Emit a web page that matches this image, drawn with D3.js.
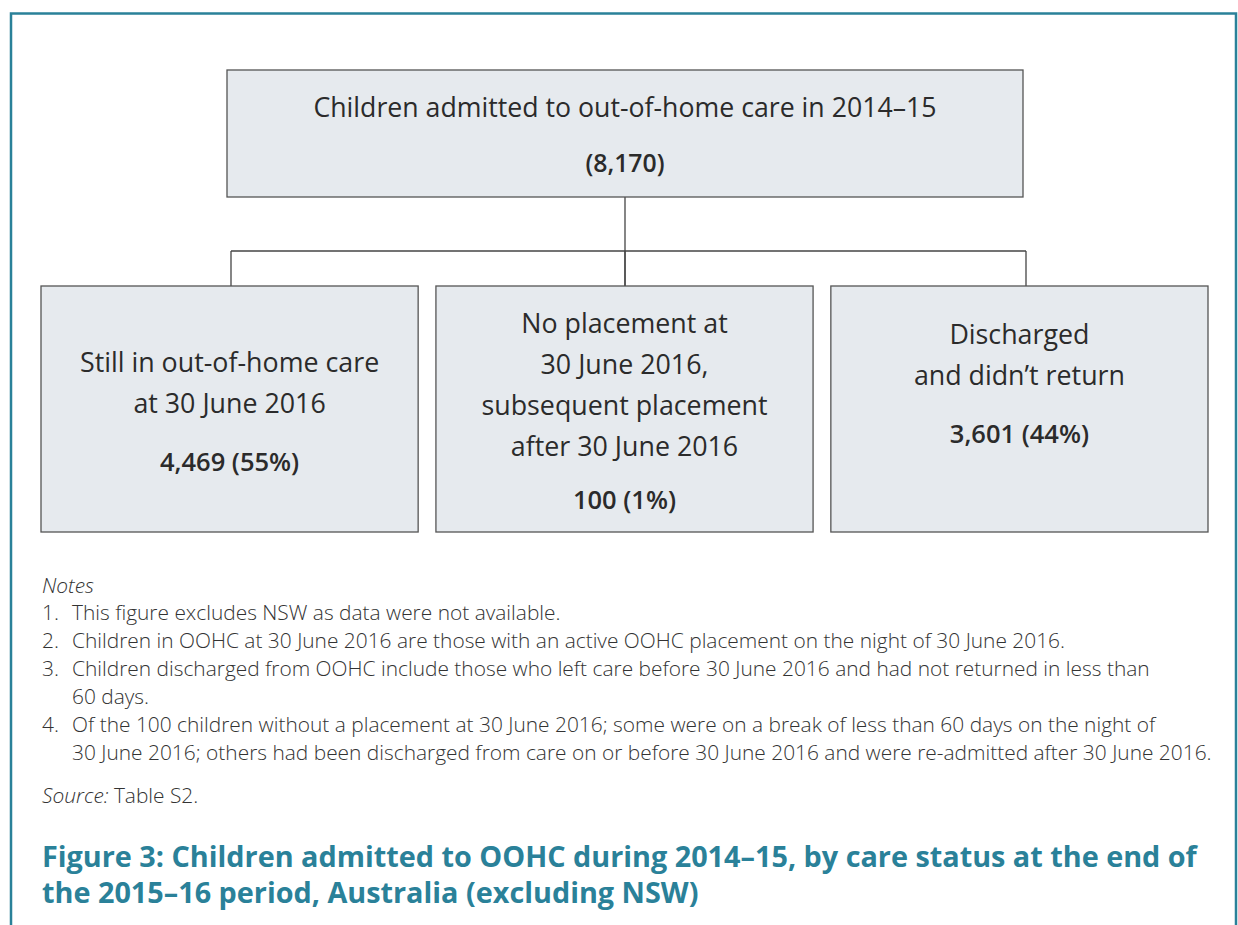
<!DOCTYPE html>
<html><head><meta charset="utf-8">
<script src="https://cdn.jsdelivr.net/npm/d3@7"></script>
<style>body{margin:0;background:#fff}svg{display:block}</style>
</head><body>
<svg id="c" width="1238" height="925"></svg>
<script>
const rootLabel = ["Children admitted to out-of-home care in 2014–15"];
const rootValue = "(8,170)";
const childLabels = [
  ["Still in out-of-home care", "at 30 June 2016"],
  ["No placement at", "30 June 2016,", "subsequent placement", "after 30 June 2016"],
  ["Discharged", "and didn’t return"]
];
const childValues = ["4,469 (55%)", "100 (1%)", "3,601 (44%)"];
const notes = [
  ["1.", "This figure excludes NSW as data were not available."],
  ["2.", "Children in OOHC at 30 June 2016 are those with an active OOHC placement on the night of 30 June 2016."],
  ["3.", "Children discharged from OOHC include those who left care before 30 June 2016 and had not returned in less than"],
  ["", "60 days."],
  ["4.", "Of the 100 children without a placement at 30 June 2016; some were on a break of less than 60 days on the night of"],
  ["", "30 June 2016; others had been discharged from care on or before 30 June 2016 and were re-admitted after 30 June 2016."]
];
const titleLines = [
  "Figure 3: Children admitted to OOHC during 2014–15, by care status at the end of",
  "the 2015–16 period, Australia (excluding NSW)"
];

const svg = d3.select("#c");
const FONT = "'Open Sans', 'Noto Sans', sans-serif";
const TEAL = "#2a8199";
const TXT = "#2b2b2b";
const BOXFILL = "#e6eaee";
const BOXSTROKE = "#555";

// frame
svg.append("path")
  .attr("d", "M11,925 L11,13.5 L1236,13.5 L1236,925")
  .attr("fill", "none").attr("stroke", TEAL).attr("stroke-width", 2.5);

// layout scales
const x = d3.scaleBand().domain(d3.range(childLabels.length)).range([41, 1208]).paddingInner(0.045);
const rootBox = {x0: 227, x1: 1023, y0: 70, y1: 197};
const childY0 = 286, childY1 = 532, busY = 251;
const cx = (rootBox.x0 + rootBox.x1) / 2;

// connectors
const g = svg.append("g").attr("stroke", "#444").attr("stroke-width", 1.3).attr("fill", "none");
const drops = [rootBox.x0 + 4, cx, rootBox.x1 + 3];
g.append("line").attr("x1", cx).attr("x2", cx).attr("y1", rootBox.y1).attr("y2", childY0);
g.append("line").attr("x1", drops[0]).attr("x2", drops[2]).attr("y1", busY).attr("y2", busY);
drops.forEach(c => g.append("line").attr("x1", c).attr("x2", c).attr("y1", busY).attr("y2", childY0));

// root box
svg.append("rect").attr("x", rootBox.x0).attr("y", rootBox.y0)
  .attr("width", rootBox.x1 - rootBox.x0).attr("height", rootBox.y1 - rootBox.y0)
  .attr("fill", BOXFILL).attr("stroke", BOXSTROKE).attr("stroke-width", 1.3);
svg.append("text").attr("x", cx).attr("y", 117).attr("text-anchor", "middle")
  .attr("font-family", FONT).attr("font-size", 26.7).attr("fill", TXT).text(rootLabel[0]);
svg.append("text").attr("x", cx).attr("y", 172).attr("text-anchor", "middle")
  .attr("font-family", FONT).attr("font-size", 24.8).attr("font-weight", 600).attr("fill", TXT).text(rootValue);

// child boxes
const lineH = 41;
const firstBaseline = [372, 333, 344];
const valueGap = [58, 53, 58];
childLabels.forEach((lines, i) => {
  const bx = x(i), bw = x.bandwidth();
  svg.append("rect").attr("x", bx).attr("y", childY0).attr("width", bw).attr("height", childY1 - childY0)
    .attr("fill", BOXFILL).attr("stroke", BOXSTROKE).attr("stroke-width", 1.3);
  const mid = bx + bw / 2;
  lines.forEach((t, j) => {
    svg.append("text").attr("x", mid).attr("y", firstBaseline[i] + j * lineH).attr("text-anchor", "middle")
      .attr("font-family", FONT).attr("font-size", 26.8).attr("fill", TXT).text(t);
  });
  svg.append("text").attr("x", mid).attr("y", firstBaseline[i] + (lines.length - 1) * lineH + valueGap[i])
    .attr("text-anchor", "middle").attr("font-family", FONT).attr("font-size", 25.5).attr("font-weight", 600)
    .attr("fill", TXT).text(childValues[i]);
});

// notes
const NOTECOL = "#333";
const NS = 20.9;
svg.append("text").attr("x", 42).attr("y", 593).attr("font-family", FONT).attr("font-size", NS)
  .attr("font-style", "italic").attr("fill", NOTECOL).attr("font-weight", 300).text("Notes");
notes.forEach((n, i) => {
  const y = 620 + i * 28;
  if (n[0]) svg.append("text").attr("x", 42).attr("y", y).attr("font-family", FONT).attr("font-size", NS)
    .attr("fill", NOTECOL).attr("font-weight", 300).text(n[0]);
  svg.append("text").attr("x", 72).attr("y", y).attr("font-family", FONT).attr("font-size", NS)
    .attr("fill", NOTECOL).attr("font-weight", 300).text(n[1]);
});
const src = svg.append("text").attr("x", 42).attr("y", 803).attr("font-family", FONT).attr("font-size", NS)
  .attr("fill", NOTECOL).attr("font-weight", 300);
src.append("tspan").attr("font-style", "italic").text("Source:");
src.append("tspan").text(" Table S2.");

// title
titleLines.forEach((t, i) => {
  svg.append("text").attr("x", 42).attr("y", 867 + i * 36).attr("font-family", FONT)
    .attr("font-size", 28.8).attr("font-weight", 700).attr("fill", TEAL).text(t);
});
</script>
</body></html>
